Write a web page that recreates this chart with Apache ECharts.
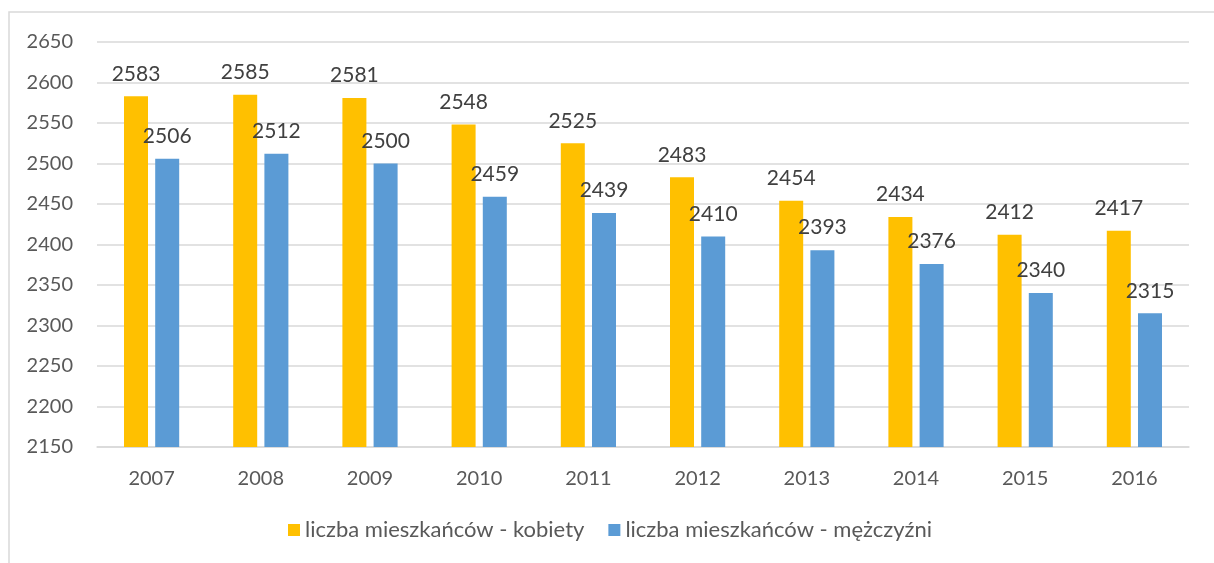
<!DOCTYPE html>
<html><head><meta charset="utf-8">
<script src="https://cdn.jsdelivr.net/npm/echarts@6/dist/echarts.min.js"></script>
<style>html,body{margin:0;padding:0;background:#fff}#c{width:1214px;height:563px}</style>
</head><body><div id="c"></div>
<script>
const years = ['2007','2008','2009','2010','2011','2012','2013','2014','2015','2016'];
const women = [2583,2585,2581,2548,2525,2483,2454,2434,2412,2417];
const men = [2506,2512,2500,2459,2439,2410,2393,2376,2340,2315];
const seriesNames = ['liczba mieszkańców - kobiety','liczba mieszkańców - mężczyźni'];
const FONT = 'Lato, "Open Sans", sans-serif';
const chart = echarts.init(document.getElementById('c'));
const lbl = {show:true, position:'top', distance:12, color:'#404040', fontSize:21, fontFamily:FONT};
chart.setOption({
  animation:false,
  graphic:[{type:'rect', shape:{x:9,y:12,width:1400,height:700}, style:{fill:null, stroke:'#d9d9d9', lineWidth:1.5}, silent:true}],
  grid:{left:97, right:25, top:42, bottom:116, containLabel:false},
  legend:{bottom:17, left:283, itemWidth:12, itemHeight:12, itemGap:24, icon:'rect',
    textStyle:{color:'#595959', fontSize:22, fontFamily:FONT}, data:seriesNames},
  xAxis:{type:'category', data:years, axisLine:{show:true, lineStyle:{color:'#d9d9d9', width:1.5}}, axisTick:{show:false},
    axisLabel:{color:'#595959', fontSize:20, fontFamily:FONT, margin:22}},
  yAxis:{type:'value', min:2150, max:2650, interval:50,
    axisLine:{show:false}, axisTick:{show:false},
    splitLine:{lineStyle:{color:'#d9d9d9', width:1.5}},
    axisLabel:{color:'#595959', fontSize:20, fontFamily:FONT, margin:24, formatter:v=>String(v)}},
  series:[
    {name:seriesNames[0], type:'bar', data:women, barWidth:24, barGap:'30%', itemStyle:{color:'#ffc000'}, label:lbl},
    {name:seriesNames[1], type:'bar', data:men, barWidth:24, barGap:'30%', itemStyle:{color:'#5b9bd5'}, label:lbl}
  ]
});
</script></body></html>
